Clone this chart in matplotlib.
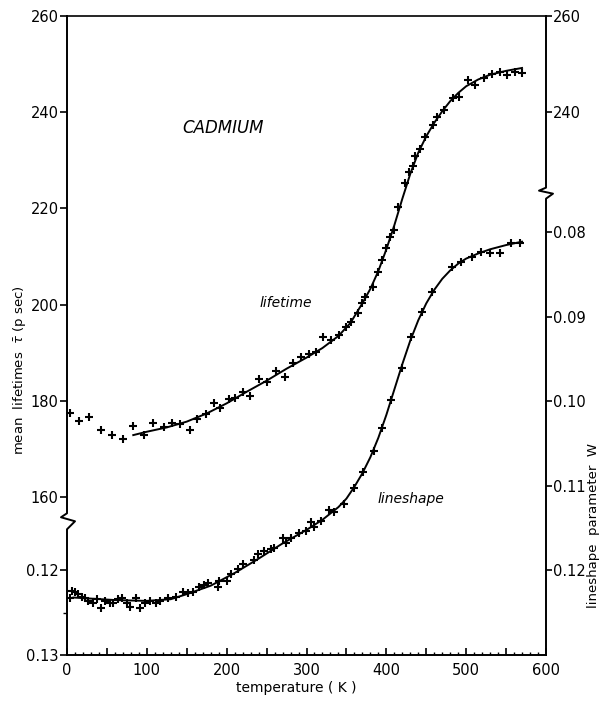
import matplotlib.pyplot as plt
import numpy as np

# mean lifetime measurements: temperature (K), tau (ps)
life_T = [4, 15, 28, 42, 56, 70, 83, 96, 108, 121, 132, 142, 154, 163, 174, 184, 192,
          203, 211, 220, 229, 240, 251, 262, 273, 283, 293, 303, 312, 321, 331, 341, 350,
          356, 364, 370, 373, 383, 390, 395, 399, 404, 409, 415, 423, 428, 433, 436, 442,
          449, 459, 463, 472, 483, 491, 502, 511, 522, 532, 542, 551, 561, 570]
life_tau = [177.5, 175.8, 176.6, 173.9, 172.9, 172.1, 174.8, 172.9, 175.4, 174.6, 175.4,
            175.2, 173.9, 176.2, 177.3, 179.5, 178.5, 180.4, 180.6, 181.8, 181.0, 184.5,
            183.9, 186.2, 185.0, 187.9, 189.1, 189.7, 190.1, 193.3, 192.6, 193.7, 195.3,
            196.4, 198.3, 200.3, 201.6, 203.7, 206.8, 209.3, 211.8, 214.1, 215.5, 220.3,
            225.3, 227.6, 228.8, 230.9, 232.3, 234.8, 237.3, 239.0, 240.5, 243.0, 243.2,
            246.7, 245.7, 247.1, 247.9, 248.4, 247.7, 248.4, 248.2]

# fitted lifetime curve
life_fit_T = [83, 100, 125, 150, 175, 200, 225, 250, 275, 300, 320, 340, 355, 370, 380,
              390, 400, 410, 420, 430, 440, 450, 460, 470, 480, 490, 500, 515, 530, 550, 570]
life_fit_tau = [172.9, 173.6, 174.5, 175.7, 177.4, 179.5, 181.9, 184.2, 186.7, 189.0,
                191.0, 193.5, 196.2, 200.3, 203.3, 207.0, 211.5, 216.5, 222.0, 227.2,
                231.6, 235.0, 237.8, 240.2, 242.3, 244.0, 245.4, 246.8, 247.8, 248.6, 249.2]

# lineshape parameter W measurements
w_T = [4, 6, 10, 14, 19, 23, 26, 33, 38, 42, 48, 54, 58, 64, 69, 75, 79, 86, 92, 98,
       104, 111, 117, 126, 136, 145, 152, 158, 165, 171, 177, 189, 191, 201, 205, 214,
       221, 234, 239, 247, 255, 259, 270, 274, 281, 291, 299, 306, 309, 318, 328, 335,
       347, 360, 371, 384, 395, 406, 419, 431, 445, 457, 482, 494, 507, 519, 530, 542,
       556, 567]
w_W = [0.1232, 0.1224, 0.1226, 0.1228, 0.1231, 0.1233, 0.1236, 0.1238, 0.1234, 0.1244,
       0.1236, 0.1238, 0.1239, 0.1234, 0.1232, 0.1239, 0.1243, 0.1233, 0.1244, 0.1238,
       0.1236, 0.1238, 0.1236, 0.1233, 0.1231, 0.1226, 0.1227, 0.1225, 0.1220, 0.1217,
       0.1215, 0.1220, 0.1213, 0.1212, 0.1204, 0.1198, 0.1192, 0.1188, 0.1180, 0.1177,
       0.1175, 0.1173, 0.1162, 0.1167, 0.1161, 0.1156, 0.1153, 0.1143, 0.1149, 0.1141,
       0.1128, 0.1131, 0.1121, 0.1102, 0.1084, 0.1059, 0.1032, 0.0998, 0.0960, 0.0924,
       0.0894, 0.0871, 0.0841, 0.0835, 0.0829, 0.0823, 0.0824, 0.0824, 0.0812, 0.0812]

# fitted lineshape curve
w_fit_T = [8, 60, 100, 130, 150, 180, 210, 240, 270, 300, 320, 340, 350, 360, 370, 380,
           390, 400, 410, 420, 430, 440, 450, 460, 470, 480, 490, 500, 515, 530, 550, 570]
w_fit_W = [0.1232, 0.1235, 0.1236, 0.1234, 0.1228, 0.1218, 0.1203, 0.1186, 0.1168,
           0.1152, 0.1140, 0.1125, 0.1115, 0.1101, 0.1085, 0.1066, 0.1043, 0.1016,
           0.0986, 0.0956, 0.0928, 0.0904, 0.0884, 0.0868, 0.0855, 0.0845, 0.0837,
           0.0831, 0.0825, 0.0820, 0.0815, 0.0811]

x_ticks = [0, 100, 200, 300, 400, 500, 600]
tau_ticks = [160, 180, 200, 220, 240, 260]
w_ticks_right = [0.08, 0.09, 0.10, 0.11, 0.12]
w_ticks_left = [0.12, 0.13]
tau_ticks_right = [240, 260]

tau_lim = (127.2, 260.0)
w_lim = (0.1300, 0.0544)
tau_break = 155.2
w_break = 0.0753


def tau2w(t):
    t = np.asarray(t, dtype=float)
    return w_lim[0] + (t - tau_lim[0]) * (w_lim[1] - w_lim[0]) / (tau_lim[1] - tau_lim[0])


def w2tau(w):
    w = np.asarray(w, dtype=float)
    return tau_lim[0] + (w - w_lim[0]) * (tau_lim[1] - tau_lim[0]) / (w_lim[1] - w_lim[0])


plt.rcParams['font.family'] = 'DejaVu Sans'
fig = plt.figure(figsize=(6.05, 7.02), dpi=100)
ax = fig.add_axes([67 / 605, 47 / 702, 479 / 605, 639 / 702])
axW = ax.twinx()

ax.set_xlim(0, 600)
ax.set_ylim(*tau_lim)
axW.set_ylim(*w_lim)

mk = dict(marker='+', ls='none', color='k', ms=6, mew=1.5)
ax.plot(life_T, life_tau, **mk)
ax.plot(life_fit_T, life_fit_tau, color='k', lw=1.4)
axW.plot(w_T, w_W, **mk)
axW.plot(w_fit_T, w_fit_W, color='k', lw=1.4)

# x axis
ax.set_xticks(np.arange(0, 601, 50),
              [str(v) if v in x_ticks else '' for v in np.arange(0, 601, 50)])
ax.set_xticks(np.arange(0, 601, 10), minor=True)
ax.tick_params(axis='x', which='major', direction='in', length=5, width=1.2,
               labelsize=10.5, pad=6)
ax.tick_params(axis='x', which='minor', direction='in', length=2, width=1)

# left axis: lifetimes and lower W range
left_pos = list(tau_ticks) + list(w2tau(w_ticks_left))
left_lab = [str(v) for v in tau_ticks] + ['0.12', '0.13']
ax.set_yticks(left_pos, left_lab)
ax.set_yticks([float(w2tau(0.125))], minor=True)
ax.tick_params(axis='y', which='major', direction='out', length=5, width=1.2,
               labelsize=10.5, pad=1, left=True, right=False)
ax.tick_params(axis='y', which='minor', direction='out', length=3, width=1,
               left=True, right=False)

# right axis: W and upper lifetime range
right_pos = list(w_ticks_right) + list(tau2w(tau_ticks_right))
right_lab = ['0.08', '0.09', '0.10', '0.11', '0.12'] + ['240', '260']
axW.set_yticks(right_pos, right_lab)
axW.tick_params(axis='y', direction='out', length=4, width=1.2, labelsize=10.5, pad=1)

for s in axW.spines.values():
    s.set_visible(False)
ax.spines['left'].set_visible(False)
ax.spines['right'].set_visible(False)
ax.spines['top'].set_linewidth(1.2)
ax.spines['bottom'].set_linewidth(1.4)

# broken vertical axes
dx, dy = 1 / 479, 1 / 639
yl = (tau_break - tau_lim[0]) / (tau_lim[1] - tau_lim[0])
yr = (w_break - w_lim[0]) / (w_lim[1] - w_lim[0])
sty = dict(color='k', lw=1.4, transform=ax.transAxes, clip_on=False)
ax.plot([0, 0, 8 * dx, -6 * dx, 0, 0],
        [0, yl - 9 * dy, yl - 1 * dy, yl + 3 * dy, yl + 7 * dy, 1], **sty)
ax.plot([1, 1, 1 - 7 * dx, 1 + 7 * dx, 1, 1],
        [1, yr + 5 * dy, yr + 2 * dy, yr - 1 * dy, yr - 6 * dy, 0], **sty)

ax.text(195, 236.7, 'CADMIUM', style='italic', fontsize=12, ha='center', va='center')
ax.text(274, 200.3, 'lifetime', style='italic', fontsize=10, ha='center', va='center')
axW.text(431, 0.1115, 'lineshape', style='italic', fontsize=10, ha='center', va='center')

fig.text(20 / 605, 1 - 370 / 702, r'mean  lifetimes  $\bar{\tau}$ (p sec)', rotation=90,
         fontsize=9.5, ha='center', va='center')
fig.text(594 / 605, 1 - 525 / 702, 'lineshape  parameter  W', rotation=90,
         fontsize=9.5, ha='center', va='center')
fig.text(296 / 605, 1 - 688 / 702, 'temperature ( K )', fontsize=10,
         ha='center', va='center')

fig.savefig('out.png', dpi=100)
